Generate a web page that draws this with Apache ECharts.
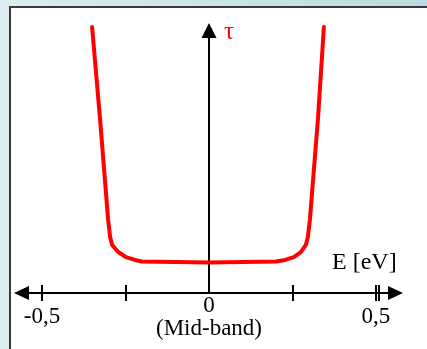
<!DOCTYPE html>
<html>
<head>
<meta charset="utf-8">
<script src="https://cdn.jsdelivr.net/npm/echarts@6/dist/echarts.min.js"></script>
<style>
html,body{margin:0;padding:0;width:427px;height:349px;overflow:hidden;
 background:linear-gradient(90deg,#dcedf0 0%,#c9e5e9 50%,#b9dde2 100%);}
#panel{position:absolute;left:9px;top:6px;right:-4px;bottom:-4px;background:#fff;
 border-left:2px solid #3a3a3a;border-top:2px solid #3a3a3a;}
#chart{position:absolute;left:0;top:0;width:427px;height:349px;}
</style>
</head>
<body>
<div id="panel"></div>
<div id="chart"></div>
<script>
// Energy relative to mid-band [eV]
const energy = [-0.350, -0.326, -0.302, -0.296, -0.290, -0.272, -0.249, -0.222, -0.201, -0.102, 0,
                 0.102, 0.201, 0.228, 0.254, 0.275, 0.290, 0.296, 0.302, 0.326, 0.344];
// Lifetime tau (arbitrary units)
const tau = [10.13, 6.59, 2.78, 2.13, 1.83, 1.56, 1.37, 1.26, 1.20, 1.18, 1.16,
             1.18, 1.20, 1.26, 1.37, 1.56, 1.83, 2.13, 2.78, 6.59, 10.13];
const tickValues = [-0.5, -0.25, 0.25, 0.5, 0.509];
const labelValues = [-0.5, 0, 0.5];
const labelTexts = {"-0.5": "-0,5", "0": "0", "0.5": "0,5"};
const midLabel = "(Mid-band)";
const yName = "τ";
const xName = "E [eV]";

const chart = echarts.init(document.getElementById('chart'));
const serif = 'Liberation Serif';
chart.setOption({
  animation: false,
  backgroundColor: 'transparent',
  title: [
    {text: yName, left: 224, top: 20, padding: 0,
     textStyle: {color: '#ff0000', fontFamily: serif, fontSize: 25, fontWeight: 'normal'}},
    {text: xName, left: 332, top: 251, padding: 0,
     textStyle: {color: '#000', fontFamily: serif, fontSize: 24, fontWeight: 'normal'}}
  ],
  grid: {left: 21.5, right: 31.5, top: 30.5, bottom: 56, containLabel: false, outerBoundsMode: 'none'},
  xAxis: [{
    type: 'value', min: -0.5614, max: 0.5584, position: 'bottom',
    axisLine: {show: true, onZero: true, symbol: ['triangle', 'triangle'], symbolSize: [14, 15],
      lineStyle: {color: '#000', width: 2}},
    axisTick: {show: true, inside: false, length: 8, customValues: tickValues,
      lineStyle: {color: '#000', width: 2}},
    axisLabel: {show: true, margin: 1, customValues: labelValues,
      fontFamily: serif, fontSize: 23, color: '#000',
      formatter: function (v) {
        const key = String(Math.round(v * 10) / 10);
        if (key === '0') return '{z|0}\n{m|' + midLabel + '}';
        return '{p|' + labelTexts[key] + '}';
      },
      rich: {
        z: {fontFamily: serif, fontSize: 23, lineHeight: 24, color: '#000'},
        m: {fontFamily: serif, fontSize: 23, lineHeight: 22, color: '#000'},
        p: {fontFamily: serif, fontSize: 23, lineHeight: 46, color: '#000'}
      }},
    splitLine: {show: false}
  }, {
    type: 'value', min: -0.5614, max: 0.5584, position: 'bottom',
    axisLine: {show: false},
    axisTick: {show: true, inside: true, length: 8, customValues: tickValues,
      lineStyle: {color: '#000', width: 2}},
    axisLabel: {show: false},
    splitLine: {show: false}
  }],
  yAxis: {
    type: 'value', min: 0, max: 10,
    axisLine: {show: true, onZero: true, symbol: ['none', 'triangle'], symbolSize: [15, 15],
      lineStyle: {color: '#000', width: 2}},
    axisTick: {show: false}, axisLabel: {show: false}, splitLine: {show: false}
  },
  series: [{
    type: 'line', xAxisIndex: 0, yAxisIndex: 0,
    data: energy.map((e, i) => [e, tau[i]]),
    symbol: 'none', clip: false, smooth: false,
    lineStyle: {color: '#ff0000', width: 4, join: 'round', cap: 'round'}
  }]
});
</script>
</body>
</html>
